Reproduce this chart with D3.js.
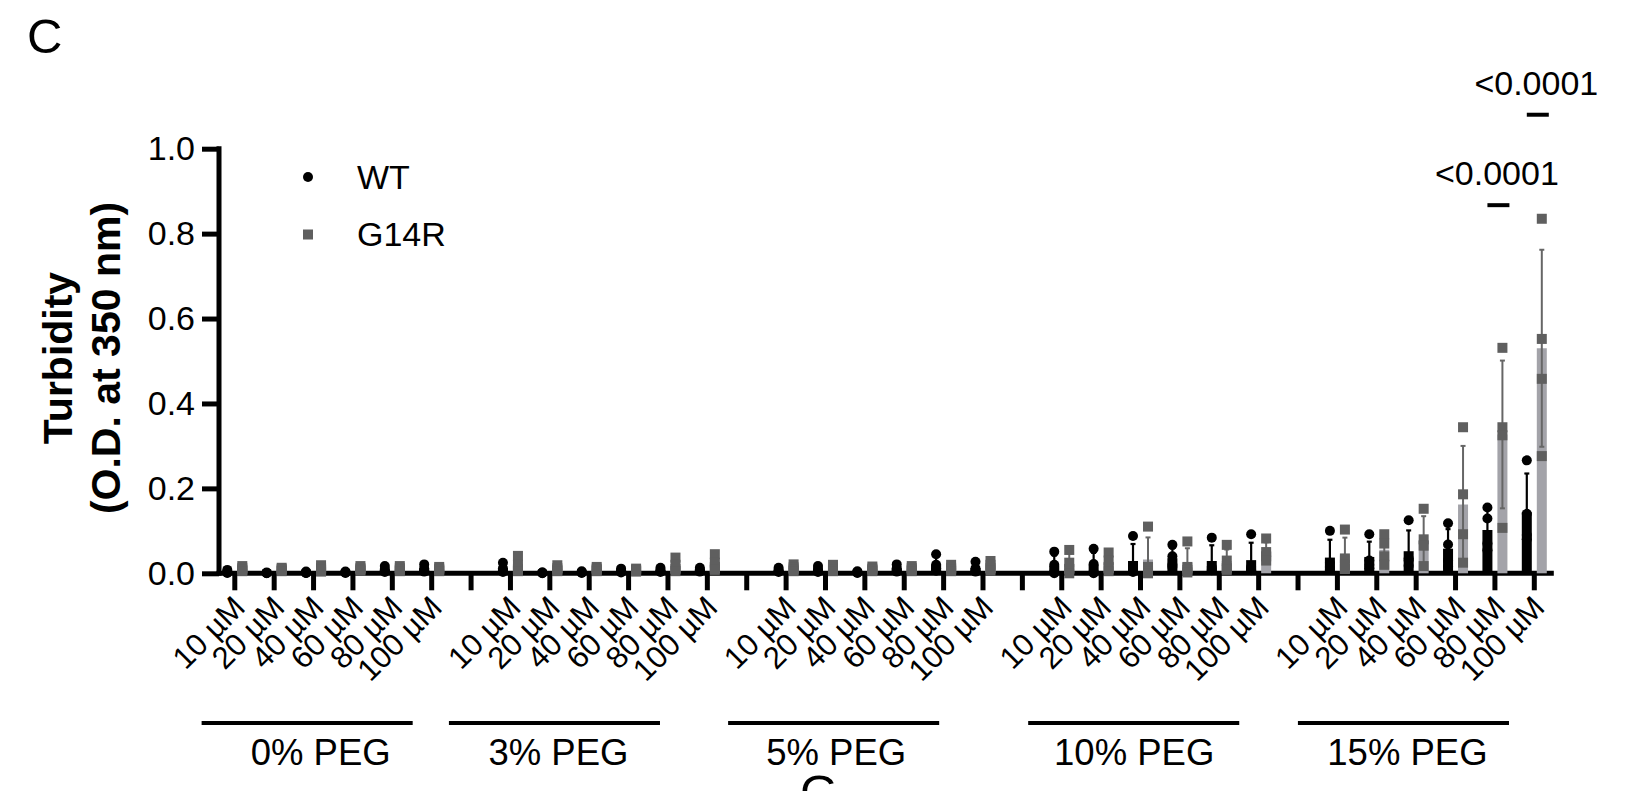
<!DOCTYPE html>
<html>
<head>
<meta charset="utf-8">
<script src="https://cdn.jsdelivr.net/npm/d3@7"></script>
<style>
  body { margin: 0; background: #fff; }
  svg { display: block; font-family: "Liberation Sans", Arial, Helvetica, sans-serif; }
</style>
</head>
<body>
<svg id="chart" width="1638" height="791"></svg>
<script>
// ---------------- DATA ----------------
const groups = ["0% PEG", "3% PEG", "5% PEG", "10% PEG", "15% PEG"];
const concentrations = ["10 µM", "20 µM", "40 µM", "60 µM", "80 µM", "100 µM"];
const seriesNames = ["WT", "G14R"];
const yTicks = [0.0, 0.2, 0.4, 0.6, 0.8, 1.0];

// group-major order: 0% (10..100 µM), 3%, 5%, 10%, 15%
const wtMean = [
  0.004, 0.001, 0.002, 0.0025, 0.009, 0.011,
  0.0115, 0.001, 0.003, 0.006, 0.007, 0.008,
  0.007, 0.009, 0.003, 0.011, 0.021, 0.0125,
  0.0185, 0.021, 0.029, 0.0355, 0.029, 0.031,
  0.037, 0.0385, 0.052, 0.058, 0.102, 0.144
];
const wtSD = [
  0.003, 0.001, 0.001, 0.001, 0.006, 0.007,
  0.010, 0.001, 0.002, 0.004, 0.004, 0.004,
  0.004, 0.006, 0.002, 0.007, 0.017, 0.010,
  0.023, 0.027, 0.040, 0.023, 0.037, 0.041,
  0.042, 0.036, 0.049, 0.046, 0.048, 0.091
];
const wtPoints = [
  [0.008, 0.004, 0.002, 0.001], [0.002, 0.001, 0.001, 0.0], [0.004, 0.002, 0.001, 0.001],
  [0.004, 0.003, 0.002, 0.001], [0.017, 0.010, 0.006, 0.003], [0.021, 0.012, 0.007, 0.004],
  [0.025, 0.012, 0.006, 0.003], [0.002, 0.002, 0.001, 0.0], [0.005, 0.003, 0.002, 0.001],
  [0.011, 0.007, 0.004, 0.002], [0.013, 0.008, 0.005, 0.003], [0.013, 0.009, 0.006, 0.004],
  [0.013, 0.008, 0.005, 0.003], [0.017, 0.010, 0.006, 0.003], [0.005, 0.003, 0.002, 0.001],
  [0.021, 0.012, 0.008, 0.004], [0.045, 0.020, 0.012, 0.006], [0.027, 0.012, 0.007, 0.004],
  [0.051, 0.020, 0.003, 0.0], [0.058, 0.022, 0.003, 0.0], [0.088, 0.015, 0.010, 0.003],
  [0.067, 0.040, 0.020, 0.015], [0.084, 0.015, 0.010, 0.007], [0.092, 0.015, 0.010, 0.007],
  [0.100, 0.025, 0.015, 0.008], [0.092, 0.030, 0.020, 0.012], [0.125, 0.035, 0.030, 0.018],
  [0.118, 0.068, 0.030, 0.016], [0.155, 0.129, 0.070, 0.054], [0.266, 0.140, 0.090, 0.080]
];

const g14rMean = [
  0.0105, 0.009, 0.011, 0.011, 0.0105, 0.010,
  0.019, 0.011, 0.010, 0.007, 0.018, 0.023,
  0.012, 0.012, 0.010, 0.0105, 0.012, 0.017,
  0.0225, 0.025, 0.0325, 0.025, 0.029, 0.0505,
  0.042, 0.0555, 0.0785, 0.162, 0.327, 0.530
];
const g14rSD = [
  0.005, 0.003, 0.006, 0.005, 0.005, 0.004,
  0.016, 0.006, 0.004, 0.003, 0.014, 0.016,
  0.007, 0.006, 0.005, 0.005, 0.006, 0.010,
  0.024, 0.019, 0.052, 0.034, 0.027, 0.0225,
  0.042, 0.032, 0.056, 0.138, 0.174, 0.232
];
const g14rPoints = [
  [0.017, 0.012, 0.008, 0.005], [0.013, 0.010, 0.007, 0.005], [0.019, 0.012, 0.008, 0.004],
  [0.017, 0.012, 0.009, 0.006], [0.017, 0.012, 0.008, 0.005], [0.015, 0.011, 0.008, 0.005],
  [0.041, 0.020, 0.010, 0.005], [0.019, 0.012, 0.008, 0.005], [0.015, 0.011, 0.008, 0.005],
  [0.011, 0.008, 0.006, 0.004], [0.037, 0.020, 0.010, 0.005], [0.045, 0.025, 0.015, 0.008],
  [0.021, 0.014, 0.009, 0.005], [0.020, 0.013, 0.009, 0.005], [0.016, 0.011, 0.008, 0.005],
  [0.017, 0.012, 0.008, 0.005], [0.020, 0.013, 0.009, 0.005], [0.029, 0.020, 0.012, 0.006],
  [0.055, 0.025, 0.010, 0.0], [0.049, 0.030, 0.015, 0.005], [0.110, 0.015, 0.005, 0.0],
  [0.075, 0.015, 0.008, 0.002], [0.067, 0.030, 0.012, 0.008], [0.082, 0.050, 0.040, 0.030],
  [0.103, 0.035, 0.020, 0.010], [0.092, 0.070, 0.040, 0.020], [0.152, 0.080, 0.065, 0.017],
  [0.344, 0.186, 0.092, 0.025], [0.531, 0.344, 0.325, 0.107], [0.835, 0.552, 0.458, 0.276]
];

// significance annotations (WT vs G14R)
const comparisons = [
  { group: "15% PEG", conc: "80 µM", label: "<0.0001", level: 0.867 },
  { group: "15% PEG", conc: "100 µM", label: "<0.0001", level: 1.08 }
];

// ---------------- LAYOUT ----------------
const svg = d3.select("#chart");
const axisX = 219;
const colors = { wtBar: "#000000", gBar: "#a3a3a9", gPoint: "#5f5f5f", gErr: "#666666" };

// slots: 6 concentrations per group + an empty tick between groups
const slots = [];
groups.forEach((g, gi) => {
  concentrations.forEach(c => slots.push(g + "|" + c));
  if (gi < groups.length - 1) slots.push("gap" + gi);
});

const x = d3.scalePoint().domain(slots).range([234.3, 1533.8]);
const y = d3.scaleLinear().domain([0, 1]).range([573.3, 148.7]);
const step = x.step();

const conditions = [];
groups.forEach((g, gi) => concentrations.forEach((c, ci) => {
  const i = gi * concentrations.length + ci;
  conditions.push({
    key: g + "|" + c, group: g, conc: c,
    series: [
      { name: "WT", mean: wtMean[i], sd: wtSD[i], pts: wtPoints[i], off: -7, bar: colors.wtBar, err: "#000", errW: 2.2 },
      { name: "G14R", mean: g14rMean[i], sd: g14rSD[i], pts: g14rPoints[i], off: 8, bar: colors.gBar, err: colors.gErr, errW: 2 }
    ]
  });
}));
const bars = conditions.flatMap(d => d.series.map(s => Object.assign({ key: d.key }, s)));

// ---------------- AXES ----------------
const yAxis = d3.axisLeft(y).tickValues(yTicks).tickFormat(d3.format(".1f"))
  .tickSize(17).tickSizeOuter(0).tickPadding(7);
svg.append("g").attr("transform", `translate(${axisX},0)`).call(yAxis)
  .call(g => g.select(".domain").attr("stroke", "#000").attr("stroke-width", 5)
    .attr("d", `M0,${y(1) - 2.5}V${y(0) + 2.5}`))
  .call(g => g.selectAll(".tick line").attr("stroke", "#000").attr("stroke-width", 5))
  .call(g => g.selectAll(".tick text").attr("font-size", 34).attr("fill", "#000")
    .attr("font-family", "'Liberation Sans', Arial, sans-serif"));

const xAxis = d3.axisBottom(x).tickSize(17).tickSizeOuter(0)
  .tickFormat(k => k.startsWith("gap") ? "" : k.split("|")[1]);
svg.append("g").attr("transform", `translate(0,${y(0)})`).call(xAxis)
  .call(g => g.select(".domain").attr("stroke", "#000").attr("stroke-width", 5)
    .attr("d", `M${axisX - 2.5},0H${x(slots[slots.length - 1]) + 20}`))
  .call(g => g.selectAll(".tick line").attr("stroke", "#000").attr("stroke-width", 5))
  .call(g => g.selectAll(".tick text").attr("font-size", 31).attr("fill", "#000")
    .attr("font-family", "'Liberation Sans', Arial, sans-serif")
    .attr("text-anchor", "end").attr("x", 0).attr("y", 0).attr("dy", 0)
    .attr("transform", "translate(12,36) rotate(-45)"));

// y axis title
const yTitle = svg.append("text").attr("transform", `translate(0,358) rotate(-90)`)
  .attr("text-anchor", "middle").attr("font-weight", "bold").attr("font-size", 41).attr("fill", "#000");
yTitle.append("tspan").attr("x", 0).attr("y", 72).text("Turbidity");
yTitle.append("tspan").attr("x", 0).attr("y", 119.5).text("(O.D. at 350 nm)");

// ---------------- MARKS ----------------
const plot = svg.append("g");
const bw = 10;
plot.selectAll("rect.bar").data(bars).join("rect").attr("class", "bar")
  .attr("x", d => x(d.key) + d.off - bw / 2).attr("width", bw)
  .attr("y", d => y(d.mean)).attr("height", d => y(0) - y(d.mean))
  .attr("fill", d => d.bar);

const errG = plot.selectAll("g.err").data(bars).join("g").attr("class", "err")
  .attr("transform", d => `translate(${x(d.key) + d.off},0)`)
  .attr("stroke", d => d.err).attr("stroke-width", d => d.errW);
errG.append("line").attr("y1", d => y(Math.max(0, d.mean - d.sd))).attr("y2", d => y(d.mean + d.sd));
errG.append("line").attr("x1", -2.5).attr("x2", 2.5).attr("y1", d => y(d.mean + d.sd)).attr("y2", d => y(d.mean + d.sd));
errG.filter(d => d.mean - d.sd > 0).append("line").attr("x1", -2.5).attr("x2", 2.5)
  .attr("y1", d => y(d.mean - d.sd)).attr("y2", d => y(d.mean - d.sd));

const pts = bars.flatMap(b => b.pts.map(v => ({ key: b.key, name: b.name, off: b.off, v })));
plot.selectAll("circle.pt").data(pts.filter(p => p.name === "WT")).join("circle").attr("class", "pt")
  .attr("cx", d => x(d.key) + d.off).attr("cy", d => y(d.v)).attr("r", 5).attr("fill", "#000");
plot.selectAll("rect.pt").data(pts.filter(p => p.name === "G14R")).join("rect").attr("class", "pt")
  .attr("x", d => x(d.key) + d.off - 5).attr("y", d => y(d.v) - 5).attr("width", 10).attr("height", 10)
  .attr("fill", colors.gPoint);

// ---------------- GROUP LABELS ----------------
const groupLineStart = [-0.83, -1.55, -1.46, -0.84, -0.99]; // in steps, relative to first tick of group
const groupLabelShift = [13.5, 4, 2.5, 0.5, 4];             // px, label centre vs line centre
const groupLineLen = 5.36;
const gl = svg.append("g").selectAll("g").data(groups).join("g");
gl.append("line")
  .attr("x1", (g, i) => x(g + "|" + concentrations[0]) + groupLineStart[i] * step)
  .attr("x2", (g, i) => x(g + "|" + concentrations[0]) + (groupLineStart[i] + groupLineLen) * step)
  .attr("y1", 723).attr("y2", 723).attr("stroke", "#000").attr("stroke-width", 4);
gl.append("text")
  .attr("x", (g, i) => x(g + "|" + concentrations[0]) + (groupLineStart[i] + groupLineLen / 2) * step + groupLabelShift[i])
  .attr("y", 765).attr("text-anchor", "middle").attr("font-size", 36.5).attr("fill", "#000")
  .text(g => g);

// ---------------- SIGNIFICANCE ----------------
const sig = svg.append("g").selectAll("g").data(comparisons).join("g")
  .attr("transform", d => `translate(${x(d.group + "|" + d.conc)},${y(d.level)})`);
sig.append("line").attr("x1", -7).attr("x2", 15).attr("stroke", "#000").attr("stroke-width", 4);
sig.append("text").attr("x", 2.5).attr("y", -20).attr("text-anchor", "middle")
  .attr("font-size", 34).attr("fill", "#000").text(d => d.label);

// ---------------- LEGEND ----------------
const legend = svg.append("g").attr("transform", "translate(308,0)");
legend.append("circle").attr("cx", 0).attr("cy", 177).attr("r", 5).attr("fill", "#000");
legend.append("rect").attr("x", -5).attr("y", 229.5).attr("width", 10).attr("height", 10).attr("fill", colors.gPoint);
legend.selectAll("text").data(seriesNames).join("text")
  .attr("x", 49).attr("y", (d, i) => 188.5 + i * 57.5).attr("font-size", 34).attr("fill", "#000").text(d => d);

// ---------------- PANEL LETTERS ----------------
svg.append("text").attr("x", 27).attr("y", 53).attr("font-size", 49).attr("fill", "#000").text("C");
svg.append("text").attr("x", 800).attr("y", 809).attr("font-size", 49).attr("fill", "#000").text("G");
</script>
</body>
</html>
